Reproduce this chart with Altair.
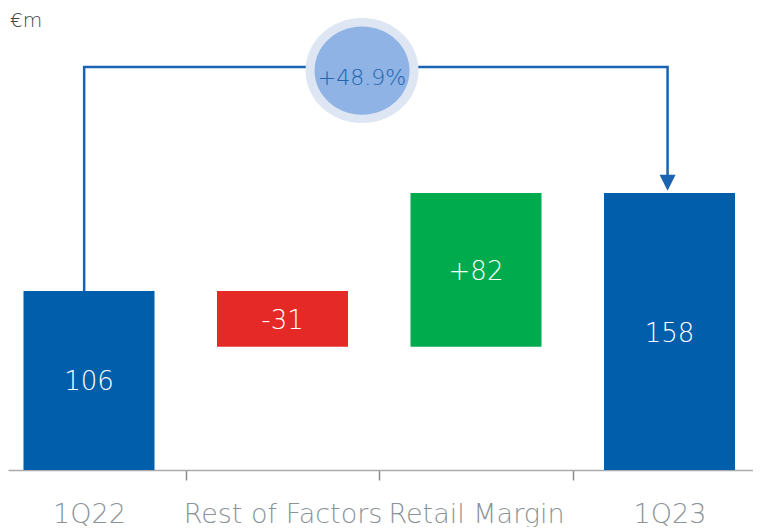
import altair as alt
import pandas as pd

# ---- data ----
categories = ["1Q22", "Rest of Factors", "Retail Margin", "1Q23"]
bar_start = [0, 106, 73, 0]
bar_end = [106, 73, 164, 164]
bar_labels = ["106", "-31", "+82", "158"]
bar_colors = ["#005eaa", "#e42926", "#00ab4e", "#005eaa"]

growth_label = "+48.9%"
unit_label = "€m"

# connector path (category index, value)
conn_x = [-0.025, -0.025, 2.99, 2.99]
conn_y = [106, 238.6, 238.6, 173]

FONT = "DejaVu Sans"
PX_PER_UNIT = 1.689
W, H = 745, 462
STEP = 193.5
FIRST_CENTER = 81
x_dom = [-FIRST_CENTER / STEP, (W - FIRST_CENTER) / STEP]
y_dom = [0, H / PX_PER_UNIT]

idx = list(range(len(categories)))
half = 131 / 2 / STEP
bars = pd.DataFrame({
    "i": idx,
    "x0": [i - half for i in idx],
    "x1": [i + half for i in idx],
    "start": bar_start,
    "end": bar_end,
    "mid": [(a + b) / 2 for a, b in zip(bar_start, bar_end)],
    "label": bar_labels,
    "color": bar_colors,
})
conn = pd.DataFrame({"x": conn_x, "y": conn_y, "order": list(range(len(conn_x)))})

xs = alt.Scale(domain=x_dom, nice=False, zero=False)
ys = alt.Scale(domain=y_dom, nice=False, zero=False)

name_expr = "[" + ",".join("'" + c + "'" for c in categories) + "]"
x_axis = alt.Axis(
    values=[0, 0.5, 1, 1.5, 2, 2.5, 3],
    labelExpr=f"datum.value % 1 == 0 ? {name_expr}[datum.value] : ''",
    tickOpacity=alt.condition("datum.value % 1 == 0", alt.value(0), alt.value(1)),
    tickSize=10, tickColor="#8a8a8a", tickWidth=1.5,
    domainColor="#aaaaaa", domainWidth=1.5,
    grid=False, title=None, labelOverlap=False, labelFlush=False, labelBound=False,
    labelLimit=0,
    labelFont=FONT, labelFontWeight=200, labelFontSize=27, labelColor="#8c9397",
    labelPadding=21,
)

base_bars = alt.Chart(bars).mark_rect().encode(
    x=alt.X("x0:Q", scale=xs, axis=x_axis),
    x2="x1:Q",
    y=alt.Y("start:Q", scale=ys, axis=None),
    y2="end:Q",
    color=alt.Color("color:N", scale=None),
)

bar_text = alt.Chart(bars).mark_text(
    font=FONT, fontWeight=200, fontSize=26, color="white", baseline="middle", dy=2
).encode(x=alt.X("i:Q", scale=xs), y=alt.Y("mid:Q", scale=ys), text="label:N")

conn_line = alt.Chart(conn).mark_line(color="#1a63b0", strokeWidth=2.5, interpolate="linear").encode(
    x=alt.X("x:Q", scale=xs), y=alt.Y("y:Q", scale=ys), order="order:Q"
)

arrow = alt.Chart(pd.DataFrame({"x": [conn_x[-1]], "y": [170]})).mark_point(
    shape="M-1,-1L1,-1L0,1Z", filled=True, color="#1a63b0", opacity=1, size=256
).encode(x=alt.X("x:Q", scale=xs), y=alt.Y("y:Q", scale=ys))

badge = pd.DataFrame({"x": [1.411], "y": [236.5], "t": [growth_label]})
outer = alt.Chart(badge).mark_point(
    shape="M-1,0A1,0.93,0,1,1,1,0A1,0.93,0,1,1,-1,0Z", filled=True, color="#dde6f2", opacity=1, size=12769
).encode(x=alt.X("x:Q", scale=xs), y=alt.Y("y:Q", scale=ys))
inner = alt.Chart(badge).mark_point(
    shape="M-1,0A1,0.93,0,1,1,1,0A1,0.93,0,1,1,-1,0Z", filled=True, color="#8fb3e4", opacity=1, size=9025
).encode(x=alt.X("x:Q", scale=xs), y=alt.Y("y:Q", scale=ys))
badge_text = alt.Chart(badge).mark_text(
    font=FONT, fontWeight=200, fontSize=22, color="#2266b2", baseline="middle", dy=7
).encode(x=alt.X("x:Q", scale=xs), y=alt.Y("y:Q", scale=ys), text="t:N")

unit = alt.Chart(pd.DataFrame({"x": [x_dom[0] + 2 / STEP], "y": [266], "t": [unit_label]})).mark_text(
    font=FONT, fontWeight=200, fontSize=20, color="#444444", align="left", baseline="middle"
).encode(x=alt.X("x:Q", scale=xs), y=alt.Y("y:Q", scale=ys), text="t:N")

chart = alt.layer(
    base_bars, bar_text, conn_line, arrow, outer, inner, badge_text, unit
).properties(width=W, height=H, padding=0).configure_view(stroke=None)

chart.save("out.html", embed_options={"renderer": "svg", "actions": False})
